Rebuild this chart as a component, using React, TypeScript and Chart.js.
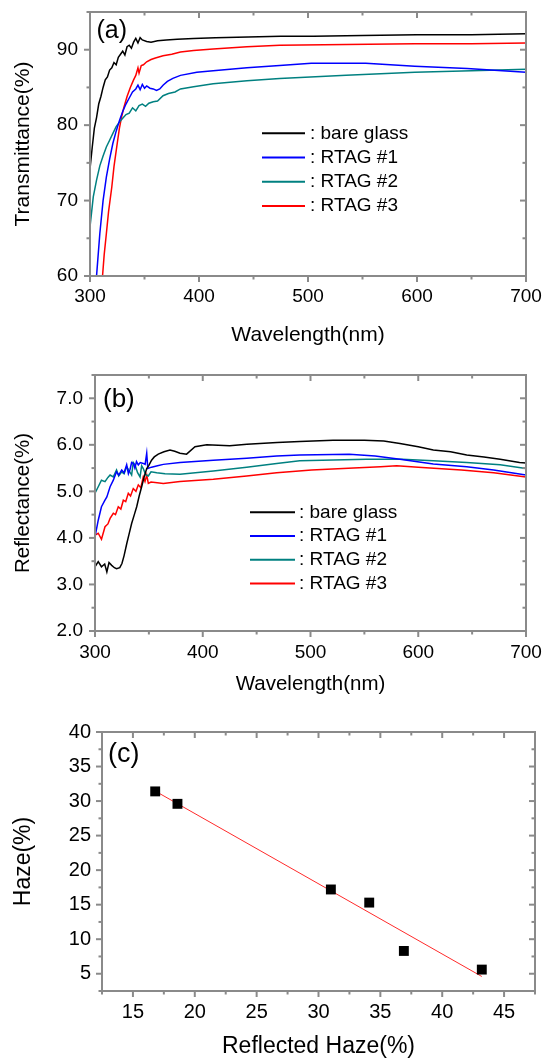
import React, { useEffect, useRef } from 'react';
import { Chart, registerables } from 'chart.js';

Chart.register(...registerables);

const FONT = "'Liberation Sans', Arial, Helvetica, sans-serif";
const AXIS_GRAY = '#8a8a8a';

// ---------- shared series info ----------
const SERIES_LABELS = ['bare glass', 'RTAG #1', 'RTAG #2', 'RTAG #3'];
const SERIES_COLORS = ['#000000', '#0000ff', '#008080', '#ff0000'];

// ---------- (a) Transmittance ----------
const T_BARE_NM = [300, 302, 304, 306, 308, 310, 312, 314, 316, 318, 320, 322, 324, 326, 328, 330, 332, 334, 336, 338, 340, 342, 344, 346, 348, 352, 356, 362, 370, 380, 395, 415, 445, 475, 505, 550, 600, 650, 700];
const T_BARE = [74.2, 77.0, 79.6, 81.0, 82.8, 83.8, 85.0, 86.0, 86.4, 87.3, 87.6, 88.3, 88.0, 89.0, 89.4, 89.8, 89.3, 90.4, 90.6, 90.2, 91.0, 91.5, 90.9, 91.6, 91.3, 91.1, 91.0, 91.2, 91.3, 91.4, 91.5, 91.6, 91.7, 91.8, 91.8, 91.9, 92.0, 92.0, 92.1];

const T_R1_NM = [306, 309, 312, 315, 318, 321, 324, 327, 330, 333, 336, 339, 342, 344, 346, 348, 350, 352, 355, 358, 361, 364, 367, 371, 376, 383, 398, 413, 444, 474, 503, 553, 598, 646, 700];
const T_R1 = [60.0, 65.6, 70.0, 73.1, 75.5, 77.6, 79.2, 80.6, 81.8, 82.8, 83.6, 84.4, 84.8, 85.3, 84.7, 85.4, 84.9, 85.2, 84.9, 84.8, 84.6, 84.8, 85.3, 85.8, 86.2, 86.6, 87.0, 87.2, 87.6, 87.9, 88.2, 88.2, 87.8, 87.5, 87.0];

const T_R2_NM = [300, 303, 306, 309, 312, 315, 318, 321, 324, 327, 330, 333, 336, 339, 342, 345, 348, 351, 354, 358, 362, 367, 372, 378, 383, 395, 413, 444, 474, 535, 598, 650, 700];
const T_R2 = [66.5, 70.5, 72.7, 74.6, 75.9, 77.1, 78.0, 78.9, 79.8, 80.4, 80.9, 81.4, 81.6, 82.3, 81.9, 82.6, 82.8, 82.5, 82.9, 83.1, 83.2, 83.9, 84.2, 84.4, 84.8, 85.1, 85.5, 85.9, 86.2, 86.6, 87.0, 87.2, 87.4];

const T_R3_NM = [311.5, 313, 315, 317, 320, 322, 325, 327, 329, 331, 334, 337, 340, 342, 344, 345, 347, 349, 352, 356, 360, 367, 375, 383, 395, 413, 444, 474, 535, 598, 650, 700];
const T_R3 = [60.0, 62.8, 65.6, 68.5, 71.8, 74.5, 77.6, 79.6, 81.1, 82.3, 83.8, 85.0, 86.0, 86.6, 87.6, 86.9, 87.9, 88.0, 88.4, 88.7, 88.9, 89.2, 89.4, 89.7, 89.9, 90.1, 90.4, 90.6, 90.7, 90.8, 90.8, 90.9];

const A_X_TICKS = [300, 400, 500, 600, 700];
const A_Y_TICKS = [60, 70, 80, 90];

// ---------- (b) Reflectance ----------
const R_BARE_NM = [300, 303, 306, 309, 311, 313, 315.5, 318, 320, 323, 325, 327, 329.5, 332, 334, 336.5, 338.7, 341, 343.3, 345.5, 348, 350, 352.5, 355, 358.7, 364, 369.6, 374, 378.9, 385, 392.8, 403.7, 425, 441, 469, 490, 521, 550, 568, 583, 600, 614, 630, 645, 661, 676, 694, 700];
const R_BARE = [3.38, 3.49, 3.38, 3.44, 3.27, 3.47, 3.41, 3.36, 3.34, 3.36, 3.45, 3.62, 3.88, 4.12, 4.31, 4.50, 4.67, 4.90, 5.10, 5.30, 5.49, 5.56, 5.67, 5.74, 5.80, 5.85, 5.89, 5.86, 5.82, 5.80, 5.96, 6.00, 5.98, 6.01, 6.05, 6.07, 6.10, 6.10, 6.08, 6.03, 5.96, 5.89, 5.85, 5.78, 5.74, 5.69, 5.62, 5.61];

const R_R1_NM = [300, 303, 306, 309, 311, 314, 317, 320, 322, 324.8, 327, 329.4, 331, 332.5, 334, 335.5, 337, 338.5, 340.2, 342, 344.8, 346.5, 348, 349, 352.5, 358, 363.4, 378.9, 409.8, 440.8, 468.6, 490, 536, 560, 583, 614, 645, 670, 700];
const R_R1 = [4.02, 4.38, 4.67, 4.80, 4.88, 5.10, 5.24, 5.42, 5.35, 5.46, 5.40, 5.57, 5.38, 5.47, 5.62, 5.60, 5.50, 5.64, 5.57, 5.62, 5.60, 5.58, 5.82, 5.49, 5.52, 5.55, 5.58, 5.62, 5.67, 5.71, 5.76, 5.78, 5.80, 5.76, 5.69, 5.59, 5.53, 5.46, 5.35];

const R_R2_NM = [300, 303, 306, 309.3, 312, 314, 317, 320, 322, 324.8, 327, 329.4, 331.5, 334, 335.5, 337.1, 339.5, 341.8, 343.3, 344.8, 347, 349.5, 352, 357.3, 365, 378.9, 409.8, 440.8, 468.6, 490, 552, 585, 614, 645, 676, 700];
const R_R2 = [4.96, 5.10, 5.24, 5.21, 5.30, 5.35, 5.31, 5.46, 5.33, 5.42, 5.38, 5.53, 5.45, 5.35, 5.62, 5.57, 5.40, 5.31, 5.55, 5.49, 5.36, 5.33, 5.42, 5.40, 5.38, 5.37, 5.44, 5.52, 5.60, 5.66, 5.69, 5.69, 5.66, 5.62, 5.57, 5.49];

const R_R3_NM = [300, 303, 306, 309.3, 312, 314, 317, 319, 321.6, 324, 326.3, 328.5, 330.9, 333, 335.5, 338, 340.2, 342.5, 344.8, 346.4, 348, 349.5, 352, 363.4, 378.9, 409.8, 440.8, 468.6, 501, 540, 565, 580, 600, 640, 670, 700];
const R_R3 = [4.06, 4.10, 3.97, 4.24, 4.30, 4.42, 4.53, 4.50, 4.67, 4.62, 4.81, 4.78, 4.96, 4.90, 5.06, 5.00, 5.14, 5.08, 5.31, 5.21, 5.35, 5.17, 5.20, 5.17, 5.21, 5.26, 5.33, 5.40, 5.46, 5.50, 5.53, 5.55, 5.52, 5.46, 5.40, 5.31];

const B_X_TICKS = [300, 400, 500, 600, 700];
const B_Y_TICKS = [2, 3, 4, 5, 6, 7];

// ---------- (c) Haze vs Reflected Haze ----------
const REFLECTED_HAZE = [16.8, 18.6, 31.0, 34.1, 36.9, 43.2];
const HAZE = [31.4, 29.6, 17.2, 15.3, 8.3, 5.6];
const FIT_X = [16.8, 43.2];
const FIT_Y = [31.45, 4.6];

const C_X_TICKS = [15, 20, 25, 30, 35, 40, 45];
const C_Y_TICKS = [5, 10, 15, 20, 25, 30, 35, 40];

// ---------- helpers ----------
function pts(xs: number[], ys: number[]) {
  return xs.map((x, i) => ({ x, y: ys[i] }));
}

function halfSteps(majors: number[], min: number, max: number): number[] {
  const half = (majors[1] - majors[0]) / 2;
  let v = majors[0];
  while (v - half >= min - 1e-6) v -= half;
  const out: number[] = [];
  for (; v <= max + 1e-6; v += half) {
    if (!majors.some((m) => Math.abs(m - v) < 1e-6)) out.push(v);
  }
  return out;
}

type FrameCfg = {
  xMajor: number[];
  yMajor: number[];
  xMin: number; xMax: number; yMin: number; yMax: number;
  label: string; labelSize: number; labelDx: number; labelDy: number;
  legend?: { x0: number; x1: number; tx: number; y0: number; step: number; size: number };
};

function makeFrame(cfg: FrameCfg) {
  const xMinor = halfSteps(cfg.xMajor, cfg.xMin, cfg.xMax);
  const yMinor = halfSteps(cfg.yMajor, cfg.yMin, cfg.yMax);
  return {
    id: 'originFrame',
    afterDatasetsDraw(chart: any) {
      const { ctx, chartArea } = chart;
      const { left, right, top, bottom } = chartArea;
      const xs = chart.scales.x;
      const ys = chart.scales.y;
      const line = (x0: number, y0: number, x1: number, y1: number) => {
        ctx.beginPath();
        ctx.moveTo(x0, y0);
        ctx.lineTo(x1, y1);
        ctx.stroke();
      };
      ctx.save();
      ctx.strokeStyle = AXIS_GRAY;
      ctx.lineWidth = 2;
      ctx.lineCap = 'butt';
      ctx.strokeRect(left, top, right - left, bottom - top);
      const MAJ = 6;
      const MIN = 3.5;
      const xt = (v: number, len: number) => {
        const p = xs.getPixelForValue(v);
        line(p, bottom, p, bottom + len);
        line(p, top, p, top + len);
      };
      const yt = (v: number, len: number) => {
        const p = ys.getPixelForValue(v);
        line(left - len, p, left, p);
        line(right, p, right - len, p);
      };
      cfg.xMajor.forEach((v) => xt(v, MAJ));
      xMinor.forEach((v) => xt(v, MIN));
      cfg.yMajor.forEach((v) => yt(v, MAJ));
      yMinor.forEach((v) => yt(v, MIN));

      // panel label
      ctx.fillStyle = '#000';
      ctx.textAlign = 'left';
      ctx.textBaseline = 'middle';
      ctx.font = `${cfg.labelSize}px ${FONT}`;
      ctx.fillText(cfg.label, left + cfg.labelDx, top + cfg.labelDy);

      // legend
      if (cfg.legend) {
        const lg = cfg.legend;
        ctx.font = `${lg.size}px ${FONT}`;
        chart.data.datasets.forEach((ds: any, i: number) => {
          const y = top + lg.y0 + i * lg.step;
          ctx.strokeStyle = ds.borderColor;
          ctx.lineWidth = 2;
          line(left + lg.x0, y, left + lg.x1, y);
          ctx.fillStyle = '#000';
          ctx.fillText(': ' + ds.label, left + lg.tx, y);
        });
      }
      ctx.restore();
    },
  };
}

function xAxis(o: {
  min: number; max: number; ticks: number[]; height: number; tickSize: number; tickPad: number;
  title: string; titleSize: number; titlePad: number; fmt?: (v: number) => string;
}) {
  return {
    type: 'linear',
    position: 'bottom',
    min: o.min,
    max: o.max,
    afterBuildTicks: (s: any) => {
      s.ticks = o.ticks.map((v) => ({ value: v }));
    },
    afterFit: (s: any) => {
      s.height = o.height;
      s.paddingLeft = 0; s.paddingRight = 0; s.paddingTop = 0; s.paddingBottom = 0;
    },
    grid: { display: false, drawTicks: false },
    border: { display: false },
    ticks: {
      padding: o.tickPad,
      color: '#000',
      maxRotation: 0,
      autoSkip: false,
      font: { size: o.tickSize, family: FONT },
      callback: (v: any) => (o.fmt ? o.fmt(Number(v)) : String(v)),
    },
    title: {
      display: true,
      text: o.title,
      color: '#000',
      font: { size: o.titleSize, family: FONT },
      padding: { top: 0, bottom: o.titlePad },
    },
  };
}

function yAxis(o: {
  min: number; max: number; ticks: number[]; width: number; tickSize: number; tickPad: number;
  title: string; titleSize: number; titlePad: number; fmt?: (v: number) => string;
}) {
  return {
    type: 'linear',
    position: 'left',
    min: o.min,
    max: o.max,
    afterBuildTicks: (s: any) => {
      s.ticks = o.ticks.map((v) => ({ value: v }));
    },
    afterFit: (s: any) => {
      s.width = o.width;
      s.paddingLeft = 0; s.paddingRight = 0; s.paddingTop = 0; s.paddingBottom = 0;
    },
    grid: { display: false, drawTicks: false },
    border: { display: false },
    ticks: {
      padding: o.tickPad,
      color: '#000',
      autoSkip: false,
      font: { size: o.tickSize, family: FONT },
      callback: (v: any) => (o.fmt ? o.fmt(Number(v)) : String(v)),
    },
    title: {
      display: true,
      text: o.title,
      color: '#000',
      font: { size: o.titleSize, family: FONT },
      padding: { top: o.titlePad, bottom: 0 },
    },
  };
}

function lineSet(label: string, color: string, xs: number[], ys: number[]) {
  return {
    label,
    data: pts(xs, ys),
    borderColor: color,
    backgroundColor: color,
    borderWidth: 1.5,
    pointRadius: 0,
    tension: 0,
    fill: false,
  };
}

function configA(): any {
  return {
    type: 'line',
    data: {
      datasets: [
        lineSet(SERIES_LABELS[0], SERIES_COLORS[0], T_BARE_NM, T_BARE),
        lineSet(SERIES_LABELS[1], SERIES_COLORS[1], T_R1_NM, T_R1),
        lineSet(SERIES_LABELS[2], SERIES_COLORS[2], T_R2_NM, T_R2),
        lineSet(SERIES_LABELS[3], SERIES_COLORS[3], T_R3_NM, T_R3),
      ],
    },
    options: {
      responsive: false,
      animation: false,
      events: [],
      layout: { padding: { left: 0, top: 12, right: 16, bottom: 0 } },
      plugins: { legend: { display: false }, tooltip: { enabled: false } },
      scales: {
        x: xAxis({ min: 300, max: 700, ticks: A_X_TICKS, height: 74, tickSize: 19, tickPad: 9, title: 'Wavelength(nm)', titleSize: 21, titlePad: 2.4 }),
        y: yAxis({ min: 60, max: 95, ticks: A_Y_TICKS, width: 90, tickSize: 19, tickPad: 12, title: 'Transmittance(%)', titleSize: 21, titlePad: 10.5 }),
      },
    },
    plugins: [
      makeFrame({
        xMajor: A_X_TICKS, yMajor: A_Y_TICKS, xMin: 300, xMax: 700, yMin: 60, yMax: 95,
        label: '(a)', labelSize: 25, labelDx: 6.5, labelDy: 19.5,
        legend: { x0: 172, x1: 215, tx: 220, y0: 121.3, step: 24.2, size: 19 },
      }),
    ],
  };
}

function configB(): any {
  return {
    type: 'line',
    data: {
      datasets: [
        lineSet(SERIES_LABELS[0], SERIES_COLORS[0], R_BARE_NM, R_BARE),
        lineSet(SERIES_LABELS[1], SERIES_COLORS[1], R_R1_NM, R_R1),
        lineSet(SERIES_LABELS[2], SERIES_COLORS[2], R_R2_NM, R_R2),
        lineSet(SERIES_LABELS[3], SERIES_COLORS[3], R_R3_NM, R_R3),
      ],
    },
    options: {
      responsive: false,
      animation: false,
      events: [],
      layout: { padding: { left: 0, top: 25, right: 16, bottom: 0 } },
      plugins: { legend: { display: false }, tooltip: { enabled: false } },
      scales: {
        x: xAxis({ min: 300, max: 700, ticks: B_X_TICKS, height: 79, tickSize: 19, tickPad: 10, title: 'Wavelength(nm)', titleSize: 20.5, titlePad: 13.1 }),
        y: yAxis({ min: 2, max: 7.5, ticks: B_Y_TICKS, width: 95, tickSize: 19, tickPad: 12, title: 'Reflectance(%)', titleSize: 20.5, titlePad: 11, fmt: (v) => v.toFixed(1) }),
      },
    },
    plugins: [
      makeFrame({
        xMajor: B_X_TICKS, yMajor: B_Y_TICKS, xMin: 300, xMax: 700, yMin: 2, yMax: 7.5,
        label: '(b)', labelSize: 26, labelDx: 8, labelDy: 25,
        legend: { x0: 155, x1: 200, tx: 204, y0: 137.3, step: 23.7, size: 19 },
      }),
    ],
  };
}

function configC(): any {
  return {
    type: 'scatter',
    data: {
      datasets: [
        {
          label: 'Haze',
          data: pts(REFLECTED_HAZE, HAZE),
          pointStyle: 'rect',
          pointRadius: 7,
          pointBorderWidth: 0,
          borderWidth: 0,
          backgroundColor: '#000000',
          borderColor: '#000000',
          showLine: false,
        },
        {
          type: 'line',
          label: 'Fit',
          data: pts(FIT_X, FIT_Y),
          borderColor: '#ff2a2a',
          borderWidth: 1,
          pointRadius: 0,
          showLine: true,
          fill: false,
          tension: 0,
        },
      ],
    },
    options: {
      responsive: false,
      animation: false,
      events: [],
      layout: { padding: { left: 0, top: 22, right: 3, bottom: 0 } },
      plugins: { legend: { display: false }, tooltip: { enabled: false } },
      scales: {
        x: xAxis({ min: 12.5, max: 47.5, ticks: C_X_TICKS, height: 68, tickSize: 20, tickPad: 9.5, title: 'Reflected Haze(%)', titleSize: 23, titlePad: -1.8 }),
        y: yAxis({ min: 2.5, max: 40, ticks: C_Y_TICKS, width: 102, tickSize: 20, tickPad: 11, title: 'Haze(%)', titleSize: 23, titlePad: 10.2 }),
      },
    },
    plugins: [
      makeFrame({
        xMajor: C_X_TICKS, yMajor: C_Y_TICKS, xMin: 12.5, xMax: 47.5, yMin: 2.5, yMax: 40,
        label: '(c)', labelSize: 27, labelDx: 6, labelDy: 23,
      }),
    ],
  };
}

function Panel({ top, height, make }: { top: number; height: number; make: () => any }) {
  const ref = useRef<HTMLCanvasElement | null>(null);
  useEffect(() => {
    if (!ref.current) return;
    const chart = new Chart(ref.current, make());
    return () => chart.destroy();
  }, []);
  return (
    <canvas
      ref={ref}
      width={542}
      height={height}
      style={{ position: 'absolute', left: 0, top, width: 542, height, display: 'block' }}
    />
  );
}

export default function App() {
  Chart.defaults.font.family = FONT;
  Chart.defaults.color = '#000';
  return (
    <div style={{ position: 'absolute', left: 0, top: 0, width: 542, height: 1059, background: '#ffffff', overflow: 'hidden' }}>
      <Panel top={0} height={350} make={configA} />
      <Panel top={350} height={360} make={configB} />
      <Panel top={710} height={349} make={configC} />
    </div>
  );
}
